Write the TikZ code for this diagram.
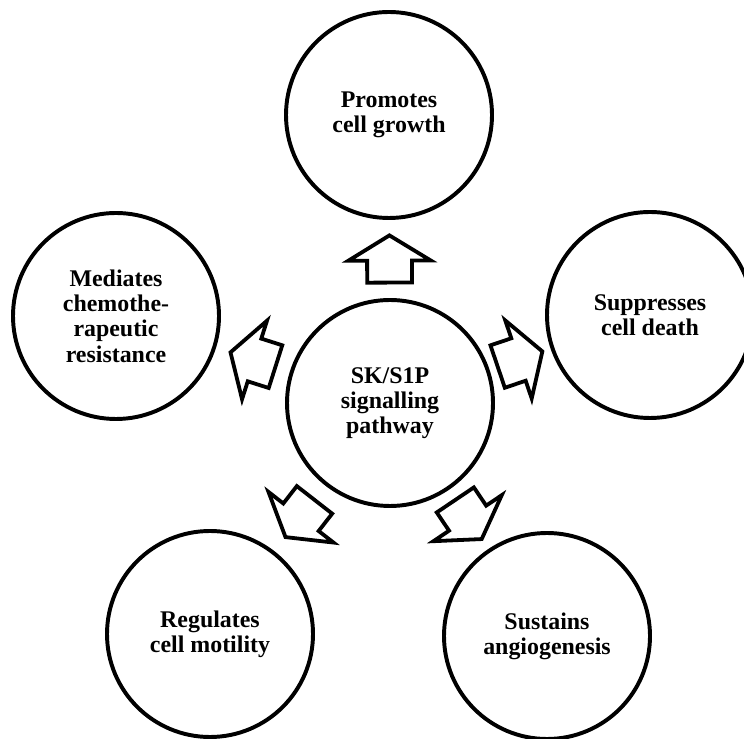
\documentclass[tikz,border=0pt]{standalone}
\usepackage{fontspec}
\setmainfont{Liberation Serif}
\usepackage{tikz}

\tikzset{
  bubble/.style={draw,circle,line width=2.8pt,minimum size=5.15cm,inner sep=0pt,
    align=center,font=\bfseries\fontsize{17}{18}\selectfont},
  bigarrow/.pic={
    \draw[line width=2.7pt,fill=white]
      (-0.59,-0.56) -- (-0.04,-0.56) -- (-0.04,-1.03) -- (0.59,0)
      -- (-0.04,1.03) -- (-0.04,0.56) -- (-0.59,0.56) -- cycle;
  }
}

\begin{document}
\begin{tikzpicture}
\useasboundingbox (0,0) rectangle (18.6,18.45);

\node[bubble] (hub) at (9.75,8.375) {SK/S1P\\signalling\\pathway};
\node[bubble] (growth) at (9.725,15.575) {Promotes\\cell growth};
\node[bubble] (chemo) at (2.9,10.55) {Mediates\\chemothe-\\rapeutic\\resistance};
\node[bubble] (death) at (16.25,10.575) {Suppresses\\cell death};
\node[bubble] (motility) at (5.25,2.6) {Regulates\\cell motility};
\node[bubble] (angio) at (13.675,2.55) {Sustains\\angiogenesis};

% block arrows from the hub out to each effect
\path (hub) -- pic[sloped,allow upside down] {bigarrow} (growth);
\path (hub) -- pic[sloped,allow upside down] {bigarrow} (chemo);
\path (hub) -- pic[sloped,allow upside down] {bigarrow} (death);
\path (hub) -- pic[sloped,allow upside down] {bigarrow} (motility);
\path (hub) -- pic[sloped,allow upside down] {bigarrow} (angio);

\end{tikzpicture}
\end{document}
